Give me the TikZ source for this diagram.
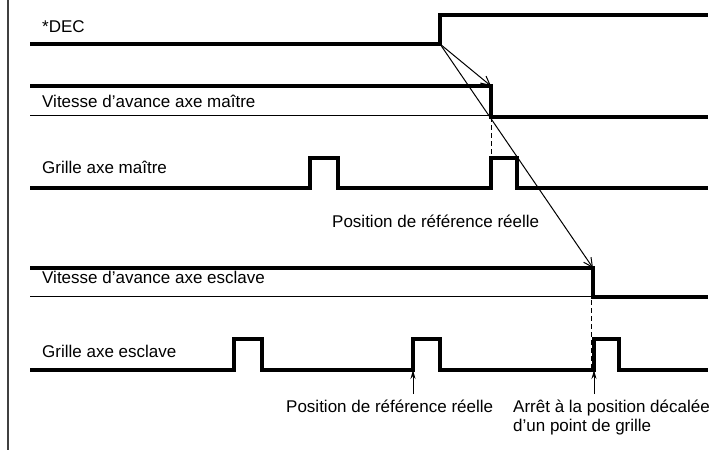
\documentclass[tikz,border=0pt]{standalone}
\usepackage{fontspec}
\setmainfont{Liberation Sans}
\usetikzlibrary{arrows.meta}
\begin{document}
\begin{tikzpicture}[x=1pt,y=-1pt,
  signal/.style={line width=3.6pt,line join=miter,line cap=butt},
  thinline/.style={line width=0.9pt},
  pointer/.style={line width=1pt,-{Straight Barb[length=9pt,width=9pt,line width=1pt]}},
  uparrow/.style={line width=1pt,-{Stealth[length=9pt,width=5pt]}},
  guide/.style={line width=1pt,dash pattern=on 5pt off 3pt},
  lbl/.style={anchor=base west,inner sep=0pt,font=\fontsize{17}{20}\selectfont}]
\useasboundingbox (0,0) rectangle (723,450);
\fill[white] (0,0) rectangle (723,450);

% frame edge on the left
\draw[line width=1.6pt,black!75] (8,0) -- (8,450);

% key points of the waveforms
\coordinate (dec) at (440,44);
\coordinate (mtop) at (491,86);
\coordinate (mbot) at (491,117);
\coordinate (mgrid) at (491,158);
\coordinate (stop) at (593,268);
\coordinate (sref) at (413,370);
\coordinate (srefa) at (413,394);
\coordinate (sstopa) at (594,394);
\coordinate (sstop) at (594,370);

% *DEC
\draw[signal] (30,44) -- (dec) -- (440,15) -- (708,15);
% master feed rate
\draw[thinline] (30,115) -- (491,115);
\draw[signal] (30,86) -- (mtop) -- (mbot) -- (708,117);
% master grid
\draw[signal] (30,188) -- (310,188) -- (310,158) -- (338,158) -- (338,188)
  -- (491,188) -- (mgrid) -- (517,158) -- (517,188) -- (708,188);
% slave feed rate
\draw[thinline] (30,296) -- (593,296);
\draw[signal] (30,268) -- (stop) -- (593,297) -- (708,297);
% slave grid
\draw[signal] (30,370) -- (234,370) -- (234,339) -- (262,339) -- (262,370)
  -- (413,370) -- (413,339) -- (440,339) -- (440,370)
  -- (594,370) -- (594,339) -- (619,339) -- (619,370) -- (708,370);

% dashed guides
\draw[guide] (mbot) -- (mgrid);
\draw[guide] (591,268) -- (591,370);

% causal arrows
\draw[pointer] (dec) -- (mtop);
\draw[pointer] (dec) -- (stop);
\draw[uparrow] (srefa) -- (sref);
\draw[uparrow] (sstopa) -- (sstop);

% labels
\node[lbl] (tdec) at (42,32) {*DEC};
\node[lbl] (tvm) at (42,107) {Vitesse d’avance axe maître};
\node[lbl] (tgm) at (42,173) {Grille axe maître};
\node[lbl] (tpm) at (332,227) {Position de référence réelle};
\node[lbl] (tve) at (42,283) {Vitesse d’avance axe esclave};
\node[lbl] (tge) at (42,357) {Grille axe esclave};
\node[lbl] (tpe) at (286,412) {Position de référence réelle};
\node[lbl] (tar) at (513,412) {Arrêt à la position décalée};
\node[lbl] (tar2) at (513,431) {d’un point de grille};
\end{tikzpicture}
\end{document}
